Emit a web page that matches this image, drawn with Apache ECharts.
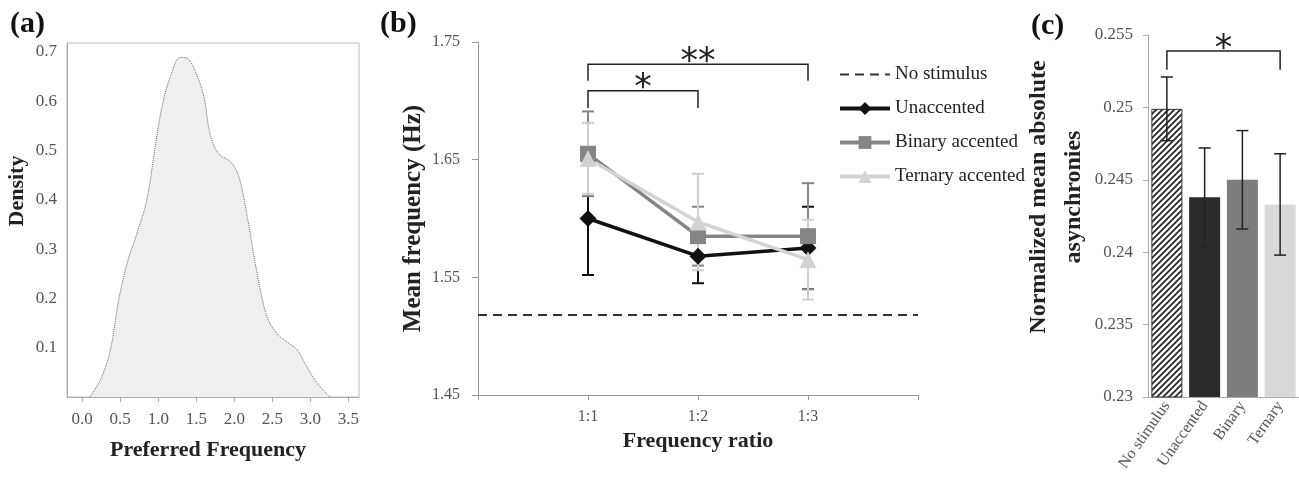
<!DOCTYPE html>
<html>
<head>
<meta charset="utf-8">
<script src="https://cdn.jsdelivr.net/npm/echarts@6/dist/echarts.min.js"></script>
<style>
html, body { margin: 0; padding: 0; background: #fff; }
#chart { width: 1299px; height: 477px; }
</style>
</head>
<body>
<div id="chart"></div>
<script>
// (a) density of preferred frequency
var densityX = [0.10, 0.24, 0.37, 0.48, 0.59, 0.72, 0.85, 0.96, 1.05, 1.16, 1.29, 1.38, 1.49, 1.60, 1.68, 1.79, 1.95, 2.06, 2.17, 2.30, 2.43, 2.56, 2.69, 2.83, 2.93, 3.09, 3.26]
var densityY = [0.0, 0.035, 0.095, 0.197, 0.271, 0.332, 0.400, 0.508, 0.589, 0.650, 0.689, 0.687, 0.660, 0.609, 0.535, 0.494, 0.477, 0.447, 0.366, 0.251, 0.163, 0.129, 0.112, 0.095, 0.068, 0.028, 0.0]
var freqTicks = [0, 0.5, 1, 1.5, 2, 2.5, 3, 3.5]
var densityTicks = [0.1, 0.2, 0.3, 0.4, 0.5, 0.6, 0.7]

// (b) mean frequency by ratio
var ratios = ['1:1', '1:2', '1:3']
var noStimulus = 1.518
var unaccMean = [1.600, 1.568, 1.575]
var unaccErr = [0.048, 0.023, 0.035]
var binaryMean = [1.655, 1.585, 1.585]
var binaryErr = [0.036, 0.025, 0.045]
var ternaryMean = [1.651, 1.597, 1.565]
var ternaryErr = [0.030, 0.041, 0.034]
var meanTicks = [1.45, 1.55, 1.65, 1.75]
var bracketsB = [[1, 2, 1.7086, 1.694], [1, 3, 1.731, 1.717]]
var bracketLabelsB = ['*', '**']

// (c) normalized asynchronies
var conditions = ['No stimulus', 'Unaccented', 'Binary', 'Ternary']
var asyncMean = [0.2499, 0.2438, 0.2450, 0.2433]
var asyncErr = [0.0022, 0.0034, 0.0034, 0.0035]
var asyncTicks = [0.23, 0.235, 0.24, 0.245, 0.25, 0.255]
var bracketsC = [[0, 3, 0.2539, 0.2526]]
var bracketLabelsC = ['*']

var serif = "'Liberation Serif', 'Times New Roman', serif"

// hatch for the no stimulus bar
var hatch = document.createElement('canvas')
hatch.width = 6
hatch.height = 6
var hc = hatch.getContext('2d')
hc.fillStyle = '#fff'
hc.fillRect(0, 0, 6, 6)
hc.strokeStyle = '#222'
hc.lineWidth = 1.7
hc.beginPath()
hc.moveTo(-1, 7); hc.lineTo(7, -1)
hc.moveTo(-4, 4); hc.lineTo(4, -4)
hc.moveTo(2, 10); hc.lineTo(10, 2)
hc.stroke()

function errorBar (color, cap, width) {
  return function (params, api) {
    var lo = api.coord([api.value(0), api.value(1)])
    var hi = api.coord([api.value(0), api.value(2)])
    var st = { stroke: color, lineWidth: width }
    return {
      type: 'group',
      children: [
        { type: 'line', shape: { x1: lo[0], y1: lo[1], x2: hi[0], y2: hi[1] }, style: st },
        { type: 'line', shape: { x1: lo[0] - cap, y1: lo[1], x2: lo[0] + cap, y2: lo[1] }, style: st },
        { type: 'line', shape: { x1: hi[0] - cap, y1: hi[1], x2: hi[0] + cap, y2: hi[1] }, style: st }
      ]
    }
  }
}

function bracket (labels) {
  return function (params, api) {
    var a = api.coord([api.value(0), api.value(3)])
    var b = api.coord([api.value(0), api.value(2)])
    var c = api.coord([api.value(1), api.value(2)])
    var d = api.coord([api.value(1), api.value(3)])
    return {
      type: 'group',
      children: [
        { type: 'polyline', shape: { points: [a, b, c, d] }, style: { stroke: '#222', lineWidth: 1.5, fill: 'none' } },
        {
          type: 'text',
          x: (b[0] + c[0]) / 2,
          y: b[1] + 16,
          style: { text: labels[params.dataIndex], font: '35px "DejaVu Sans"', fill: '#222', align: 'center', verticalAlign: 'bottom' }
        }
      ]
    }
  }
}

function errData (mean, err, xs) {
  return mean.map(function (m, i) { return [xs ? xs[i] : i, m - err[i], m + err[i]] })
}

var tickLabel = { fontFamily: serif, color: '#555' }
var axisName = { fontFamily: serif, fontWeight: 'bold', color: '#222' }

var option = {
  animation: false,
  title: [
    { text: '(a)', left: 5, top: 4, textStyle: { fontFamily: serif, fontSize: 30, fontWeight: 'bold', color: '#111' } },
    { text: '(b)', left: 375, top: 4, textStyle: { fontFamily: serif, fontSize: 30, fontWeight: 'bold', color: '#111' } },
    { text: '(c)', left: 1026, top: 6, textStyle: { fontFamily: serif, fontSize: 30, fontWeight: 'bold', color: '#111' } }
  ],
  legend: {
    orient: 'vertical',
    left: 833,
    top: 60,
    itemWidth: 50,
    itemHeight: 16,
    itemGap: 15,
    textStyle: { fontFamily: serif, fontSize: 19, color: '#222' },
    data: [
      { name: 'No stimulus', itemStyle: { opacity: 0 }, lineStyle: { width: 2 } },
      { name: 'Unaccented', lineStyle: { width: 4 } },
      { name: 'Binary accented', lineStyle: { width: 4 } },
      { name: 'Ternary accented', lineStyle: { width: 4 } }
    ]
  },
  grid: [
    { left: 67, top: 43, width: 292, height: 354, show: true, borderColor: '#bbb', borderWidth: 1 },
    { left: 478, top: 42, width: 440, height: 353 },
    { left: 1148, top: 35, width: 161, height: 362 }
  ],
  xAxis: [
    {
      gridIndex: 0,
      type: 'value',
      min: -0.2,
      max: 3.64,
      axisLine: { show: true, onZero: false, lineStyle: { color: '#aaa' } },
      axisTick: { show: true, length: 5, customValues: freqTicks, lineStyle: { color: '#aaa' } },
      axisLabel: Object.assign({ customValues: freqTicks, fontSize: 17, margin: 14, formatter: function (v) { return v.toFixed(1) } }, tickLabel),
      splitLine: { show: false },
      name: 'Preferred Frequency',
      nameLocation: 'middle',
      nameGap: 42,
      nameTextStyle: Object.assign({ fontSize: 22, padding: [0, 10, 0, 0] }, axisName)
    },
    {
      gridIndex: 1,
      type: 'value',
      min: 0,
      max: 4,
      axisLine: { show: true, onZero: false, lineStyle: { color: '#999' } },
      axisTick: { show: true, length: 5, customValues: [0, 1, 2, 3, 4], lineStyle: { color: '#999' } },
      axisLabel: Object.assign({ customValues: [1, 2, 3], fontSize: 16, margin: 14, formatter: function (v) { return ratios[v - 1] } }, tickLabel),
      splitLine: { show: false },
      name: 'Frequency ratio',
      nameLocation: 'middle',
      nameGap: 34,
      nameTextStyle: Object.assign({ fontSize: 22 }, axisName)
    },
    {
      gridIndex: 2,
      type: 'category',
      data: conditions,
      axisLine: { show: true, lineStyle: { color: '#aaa' } },
      axisTick: { show: false },
      axisLabel: Object.assign({ rotate: 55, interval: 0, fontSize: 16, margin: 6 }, tickLabel)
    }
  ],
  yAxis: [
    {
      gridIndex: 0,
      type: 'value',
      min: 0,
      max: 0.718,
      axisLine: { show: true, onZero: false, lineStyle: { color: '#aaa' } },
      axisTick: { show: false },
      axisLabel: Object.assign({ customValues: densityTicks, fontSize: 17, margin: 10, formatter: function (v) { return v.toFixed(1) } }, tickLabel),
      splitLine: { show: false },
      name: 'Density',
      nameLocation: 'middle',
      nameGap: 39,
      nameTextStyle: Object.assign({ fontSize: 22, padding: [0, 0, 0, 58] }, axisName)
    },
    {
      gridIndex: 1,
      type: 'value',
      min: 1.45,
      max: 1.75,
      axisLine: { show: true, onZero: false, lineStyle: { color: '#999' } },
      axisTick: { show: true, length: 6, customValues: meanTicks, lineStyle: { color: '#999' } },
      axisLabel: Object.assign({ customValues: meanTicks, fontSize: 16, margin: 18, formatter: function (v) { return v.toFixed(2) } }, tickLabel),
      splitLine: { show: false },
      name: 'Mean frequency (Hz)',
      nameLocation: 'middle',
      nameGap: 52,
      nameTextStyle: Object.assign({ fontSize: 25 }, axisName)
    },
    {
      gridIndex: 2,
      type: 'value',
      min: 0.23,
      max: 0.255,
      axisLine: { show: true, onZero: false, lineStyle: { color: '#aaa' } },
      axisTick: { show: true, length: 5, customValues: asyncTicks, lineStyle: { color: '#aaa' } },
      axisLabel: Object.assign({ customValues: asyncTicks, fontSize: 17, margin: 15, formatter: function (v) { return String(+v.toFixed(3)) } }, tickLabel),
      splitLine: { show: false },
      name: 'Normalized mean absolute\nasynchronies',
      nameLocation: 'middle',
      nameGap: 50,
      nameTextStyle: Object.assign({ fontSize: 24, lineHeight: 35, padding: [0, 0, 0, 38] }, axisName)
    }
  ],
  series: [
    {
      name: 'density',
      type: 'line',
      xAxisIndex: 0,
      yAxisIndex: 0,
      data: densityX.map(function (x, i) { return [x, densityY[i]] }),
      smooth: 0.35,
      showSymbol: false,
      silent: true,
      lineStyle: { color: '#666', width: 1, type: 'dotted' },
      areaStyle: { color: '#efefef', opacity: 1 }
    },
    {
      name: 'No stimulus',
      type: 'line',
      xAxisIndex: 1,
      yAxisIndex: 1,
      data: [[0, noStimulus], [4, noStimulus]],
      symbol: 'none',
      color: '#333',
      lineStyle: { color: '#333', width: 2, type: [9, 6] }
    },
    {
      type: 'custom',
      xAxisIndex: 1,
      yAxisIndex: 1,
      renderItem: errorBar('#111', 6, 2),
      data: errData(unaccMean, unaccErr, [1, 2, 3]),
      z: 2
    },
    {
      type: 'custom',
      xAxisIndex: 1,
      yAxisIndex: 1,
      renderItem: errorBar('#858585', 6, 2),
      data: errData(binaryMean, binaryErr, [1, 2, 3]),
      z: 2
    },
    {
      type: 'custom',
      xAxisIndex: 1,
      yAxisIndex: 1,
      renderItem: errorBar('#cfcfcf', 6, 2),
      data: errData(ternaryMean, ternaryErr, [1, 2, 3]),
      z: 2
    },
    {
      name: 'Unaccented',
      type: 'line',
      xAxisIndex: 1,
      yAxisIndex: 1,
      data: unaccMean.map(function (v, i) { return [i + 1, v] }),
      symbol: 'diamond',
      symbolSize: 17,
      color: '#111',
      lineStyle: { width: 3.5 },
      z: 3
    },
    {
      name: 'Binary accented',
      type: 'line',
      xAxisIndex: 1,
      yAxisIndex: 1,
      data: binaryMean.map(function (v, i) { return [i + 1, v] }),
      symbol: 'rect',
      symbolSize: 16,
      color: '#858585',
      lineStyle: { width: 3.5 },
      z: 3
    },
    {
      name: 'Ternary accented',
      type: 'line',
      xAxisIndex: 1,
      yAxisIndex: 1,
      data: ternaryMean.map(function (v, i) { return [i + 1, v] }),
      symbol: 'triangle',
      symbolSize: 17,
      color: '#d3d3d3',
      lineStyle: { width: 3.5 },
      z: 3
    },
    {
      type: 'custom',
      xAxisIndex: 1,
      yAxisIndex: 1,
      renderItem: bracket(bracketLabelsB),
      data: bracketsB
    },
    {
      type: 'bar',
      xAxisIndex: 2,
      yAxisIndex: 2,
      barWidth: 31,
      data: asyncMean.map(function (v, i) {
        var styles = [
          { color: { image: hatch, repeat: 'repeat' }, borderColor: '#333', borderWidth: 1 },
          { color: '#2b2b2b' },
          { color: '#7d7d7d' },
          { color: '#d9d9d9' }
        ]
        return { value: v, itemStyle: styles[i] }
      })
    },
    {
      type: 'custom',
      xAxisIndex: 2,
      yAxisIndex: 2,
      renderItem: errorBar('#222', 6, 1.5),
      data: errData(asyncMean, asyncErr),
      z: 3
    },
    {
      type: 'custom',
      xAxisIndex: 2,
      yAxisIndex: 2,
      renderItem: bracket(bracketLabelsC),
      data: bracketsC
    }
  ]
}

var myChart = echarts.init(document.getElementById('chart'))
myChart.setOption(option)
</script>
</body>
</html>
